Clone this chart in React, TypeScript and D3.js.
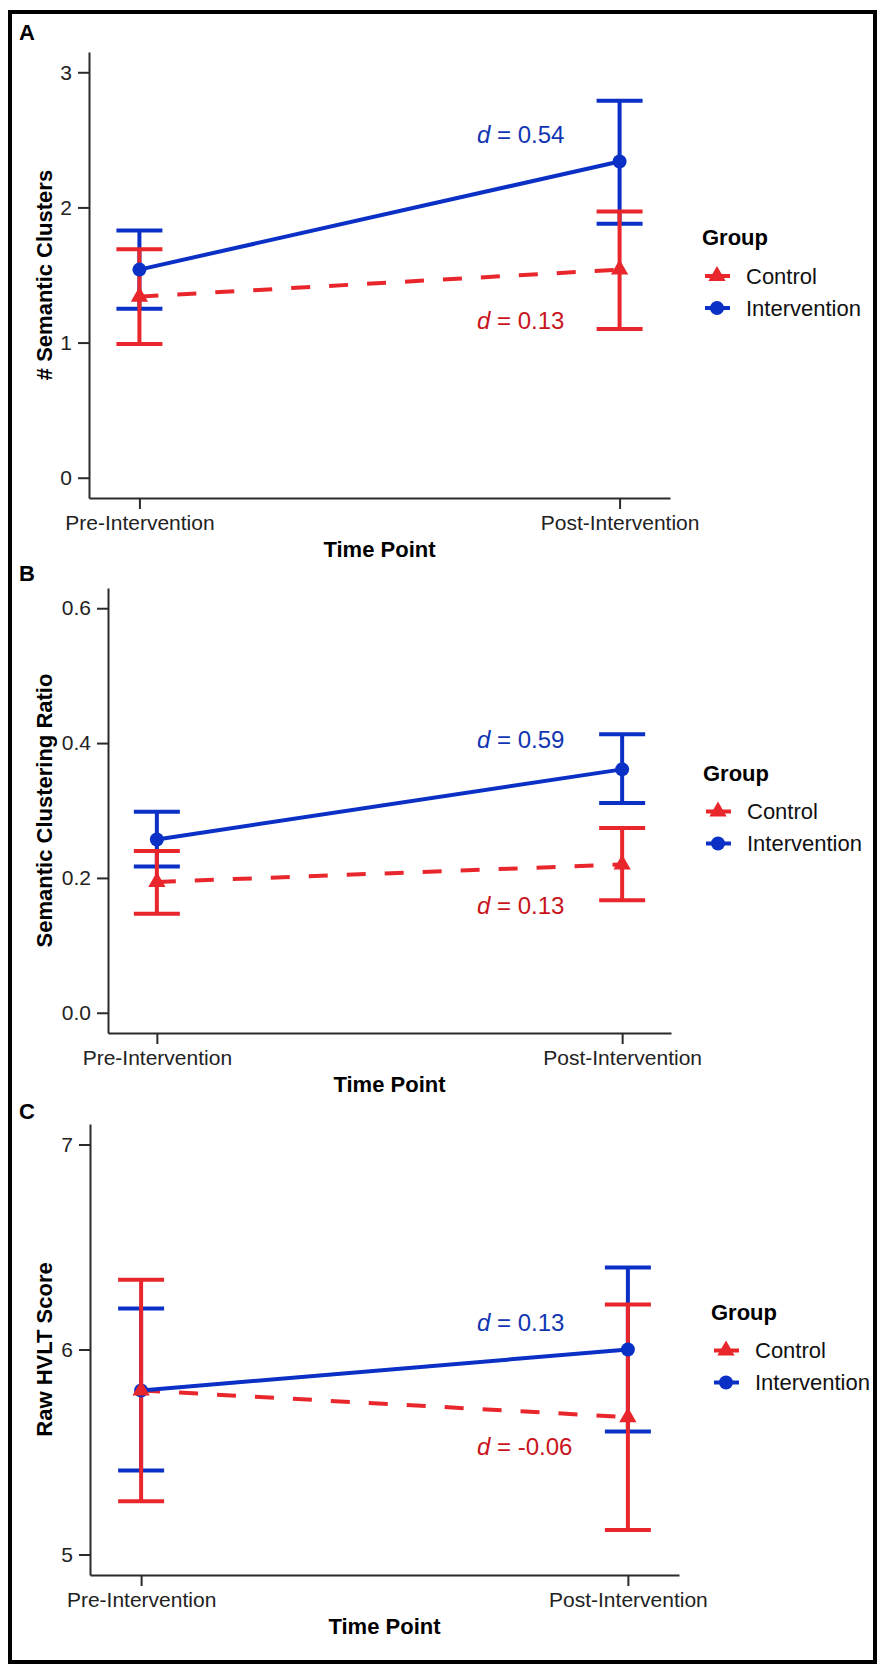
import React, { useEffect, useRef } from 'react';
import * as d3 from 'd3';

// x categories and groups
const timePoints = ['Pre-Intervention', 'Post-Intervention'];
const groups = ['Control', 'Intervention'];

// A: number of semantic clusters (mean, lower, upper)
const clustersControlMean = [1.34, 1.54];
const clustersControlLow = [0.99, 1.10];
const clustersControlHigh = [1.69, 1.97];
const clustersInterventionMean = [1.54, 2.34];
const clustersInterventionLow = [1.25, 1.88];
const clustersInterventionHigh = [1.83, 2.79];

// B: semantic clustering ratio
const ratioControlMean = [0.194, 0.22];
const ratioControlLow = [0.147, 0.167];
const ratioControlHigh = [0.24, 0.274];
const ratioInterventionMean = [0.257, 0.361];
const ratioInterventionLow = [0.217, 0.311];
const ratioInterventionHigh = [0.298, 0.413];

// C: raw HVLT score
const hvltControlMean = [5.8, 5.67];
const hvltControlLow = [5.26, 5.12];
const hvltControlHigh = [6.34, 6.22];
const hvltInterventionMean = [5.8, 6.0];
const hvltInterventionLow = [5.41, 5.6];
const hvltInterventionHigh = [6.2, 6.4];

// y ticks
const clustersTicks = [0, 1, 2, 3];
const clustersTickLabels = ['0', '1', '2', '3'];
const ratioTicks = [0, 0.2, 0.4, 0.6];
const ratioTickLabels = ['0.0', '0.2', '0.4', '0.6'];
const hvltTicks = [5, 6, 7];
const hvltTickLabels = ['5', '6', '7'];

// effect size labels: [intervention, control] text and y (baseline, data units)
const clustersEffect = ['0.54', '0.13'];
const clustersEffectY = [2.48, 1.1];
const ratioEffect = ['0.59', '0.13'];
const ratioEffectY = [0.392, 0.146];
const hvltEffect = ['0.13', '-0.06'];
const hvltEffectY = [6.092, 5.484];

const BLUE = '#0b30c6';
const RED = '#e8262c';
const BLUE_TXT = '#1236b2';
const RED_TXT = '#c8151d';
const FONT = '"Liberation Sans", Arial, Helvetica, sans-serif';

const panels = [
  {
    tag: 'A', tagY: 40, yTitle: '# Semantic Clusters',
    frame: { left: 89, right: 670, top: 52, bottom: 498 },
    ticks: clustersTicks, tickLabels: clustersTickLabels,
    control: { mean: clustersControlMean, low: clustersControlLow, high: clustersControlHigh },
    intervention: { mean: clustersInterventionMean, low: clustersInterventionLow, high: clustersInterventionHigh },
    effect: clustersEffect, effectY: clustersEffectY,
  },
  {
    tag: 'B', tagY: 581, yTitle: 'Semantic Clustering Ratio',
    frame: { left: 108, right: 671, top: 588, bottom: 1033 },
    ticks: ratioTicks, tickLabels: ratioTickLabels,
    control: { mean: ratioControlMean, low: ratioControlLow, high: ratioControlHigh },
    intervention: { mean: ratioInterventionMean, low: ratioInterventionLow, high: ratioInterventionHigh },
    effect: ratioEffect, effectY: ratioEffectY,
  },
  {
    tag: 'C', tagY: 1119, yTitle: 'Raw HVLT Score',
    frame: { left: 90, right: 679, top: 1124, bottom: 1575 },
    ticks: hvltTicks, tickLabels: hvltTickLabels,
    control: { mean: hvltControlMean, low: hvltControlLow, high: hvltControlHigh },
    intervention: { mean: hvltInterventionMean, low: hvltInterventionLow, high: hvltInterventionHigh },
    effect: hvltEffect, effectY: hvltEffectY,
  },
];

function drawPanel(svg: any, p: any) {
  const f = p.frame;
  const g = svg.append('g').attr('font-family', FONT);

  const x = d3.scalePoint<string>().domain(timePoints).range([f.left, f.right]).padding(0.105);
  const lo = p.ticks[0], hi = p.ticks[p.ticks.length - 1];
  const pad = (hi - lo) * 0.05;
  const y = d3.scaleLinear().domain([lo - pad, hi + pad]).range([f.bottom, f.top]);

  // axes
  const yAxis = g.append('g')
    .attr('transform', `translate(${f.left},0)`)
    .call(d3.axisLeft(y).tickValues(p.ticks).tickFormat((d: any, i: number) => p.tickLabels[i])
      .tickSize(11).tickSizeOuter(0).tickPadding(6));
  const xAxis = g.append('g')
    .attr('transform', `translate(0,${f.bottom})`)
    .call(d3.axisBottom(x).tickSize(11).tickSizeOuter(0).tickPadding(6));
  [yAxis, xAxis].forEach(a => {
    a.selectAll('path, line').attr('stroke', '#2a2a2a').attr('stroke-width', 2);
    a.selectAll('text').attr('font-size', 21).attr('fill', '#222').attr('font-family', FONT);
  });

  // titles
  g.append('text')
    .attr('x', (f.left + f.right) / 2).attr('y', f.bottom + 59)
    .attr('text-anchor', 'middle').attr('font-weight', 'bold').attr('font-size', 22)
    .text('Time Point');
  g.append('text')
    .attr('transform', `translate(52,${(f.top + f.bottom) / 2}) rotate(-90)`)
    .attr('text-anchor', 'middle').attr('font-weight', 'bold').attr('font-size', 22)
    .text(p.yTitle);
  g.append('text')
    .attr('x', 19).attr('y', p.tagY).attr('font-weight', 'bold').attr('font-size', 22)
    .text(p.tag);

  const line = d3.line<number>().x((_, i) => x(timePoints[i]) as number).y(v => y(v));

  g.append('path').datum(p.control.mean).attr('d', line)
    .attr('fill', 'none').attr('stroke', RED).attr('stroke-width', 4).attr('stroke-dasharray', '19,19');
  g.append('path').datum(p.intervention.mean).attr('d', line)
    .attr('fill', 'none').attr('stroke', BLUE).attr('stroke-width', 4);

  const errorBars = (s: any, color: string) => {
    timePoints.forEach((t, i) => {
      const cx = x(t) as number;
      const eb = g.append('g').attr('stroke', color).attr('stroke-width', 4);
      eb.append('line').attr('x1', cx).attr('x2', cx).attr('y1', y(s.low[i])).attr('y2', y(s.high[i]));
      [s.low[i], s.high[i]].forEach(v => {
        eb.append('line').attr('x1', cx - 23).attr('x2', cx + 23).attr('y1', y(v)).attr('y2', y(v));
      });
    });
  };
  errorBars(p.intervention, BLUE);
  errorBars(p.control, RED);

  const tri = d3.symbol().type(d3.symbolTriangle).size(130)();
  g.selectAll('.ipt').data(p.intervention.mean).enter().append('circle')
    .attr('cx', (_: any, i: number) => x(timePoints[i])).attr('cy', (v: number) => y(v))
    .attr('r', 7).attr('fill', BLUE);
  g.selectAll('.cpt').data(p.control.mean).enter().append('path')
    .attr('d', tri)
    .attr('transform', (v: number, i: number) => `translate(${x(timePoints[i])},${y(v)})`)
    .attr('fill', RED);

  // effect size annotations
  [[p.effect[0], p.effectY[0], BLUE_TXT], [p.effect[1], p.effectY[1], RED_TXT]].forEach(([txt, v, col]: any) => {
    const t = g.append('text').attr('x', 477).attr('y', y(v)).attr('font-size', 24).attr('fill', col);
    t.append('tspan').attr('font-style', 'italic').text('d');
    t.append('tspan').text(' = ' + txt);
  });

  // legend
  const lx = f.right + 32;
  const cy = (f.top + f.bottom) / 2;
  g.append('text').attr('x', lx).attr('y', cy - 30)
    .attr('font-weight', 'bold').attr('font-size', 22).text('Group');
  groups.forEach((grp, i) => {
    const ry = cy + 1 + i * 32;
    const col = grp === 'Control' ? RED : BLUE;
    g.append('line').attr('x1', lx + 3).attr('x2', lx + 28).attr('y1', ry).attr('y2', ry)
      .attr('stroke', col).attr('stroke-width', 4);
    if (grp === 'Control') {
      g.append('path').attr('d', tri).attr('transform', `translate(${lx + 15},${ry})`).attr('fill', col);
    } else {
      g.append('circle').attr('cx', lx + 15).attr('cy', ry).attr('r', 7).attr('fill', col);
    }
    g.append('text').attr('x', lx + 44).attr('y', ry).attr('dy', '0.35em')
      .attr('font-size', 22).attr('fill', '#111').text(grp);
  });
}

export default function App() {
  const ref = useRef<SVGSVGElement>(null);

  useEffect(() => {
    const svg = d3.select(ref.current);
    svg.selectAll('*').remove();
    svg.append('rect').attr('width', 880).attr('height', 1667).attr('fill', '#fff');
    svg.append('rect')
      .attr('x', 10).attr('y', 12).attr('width', 865).attr('height', 1650)
      .attr('fill', 'none').attr('stroke', '#000').attr('stroke-width', 4);
    panels.forEach(p => drawPanel(svg, p));
  }, []);

  return (
    <div style={{ position: 'absolute', left: 0, top: 0 }}>
      <svg ref={ref} width={880} height={1667} style={{ display: 'block' }} />
    </div>
  );
}
